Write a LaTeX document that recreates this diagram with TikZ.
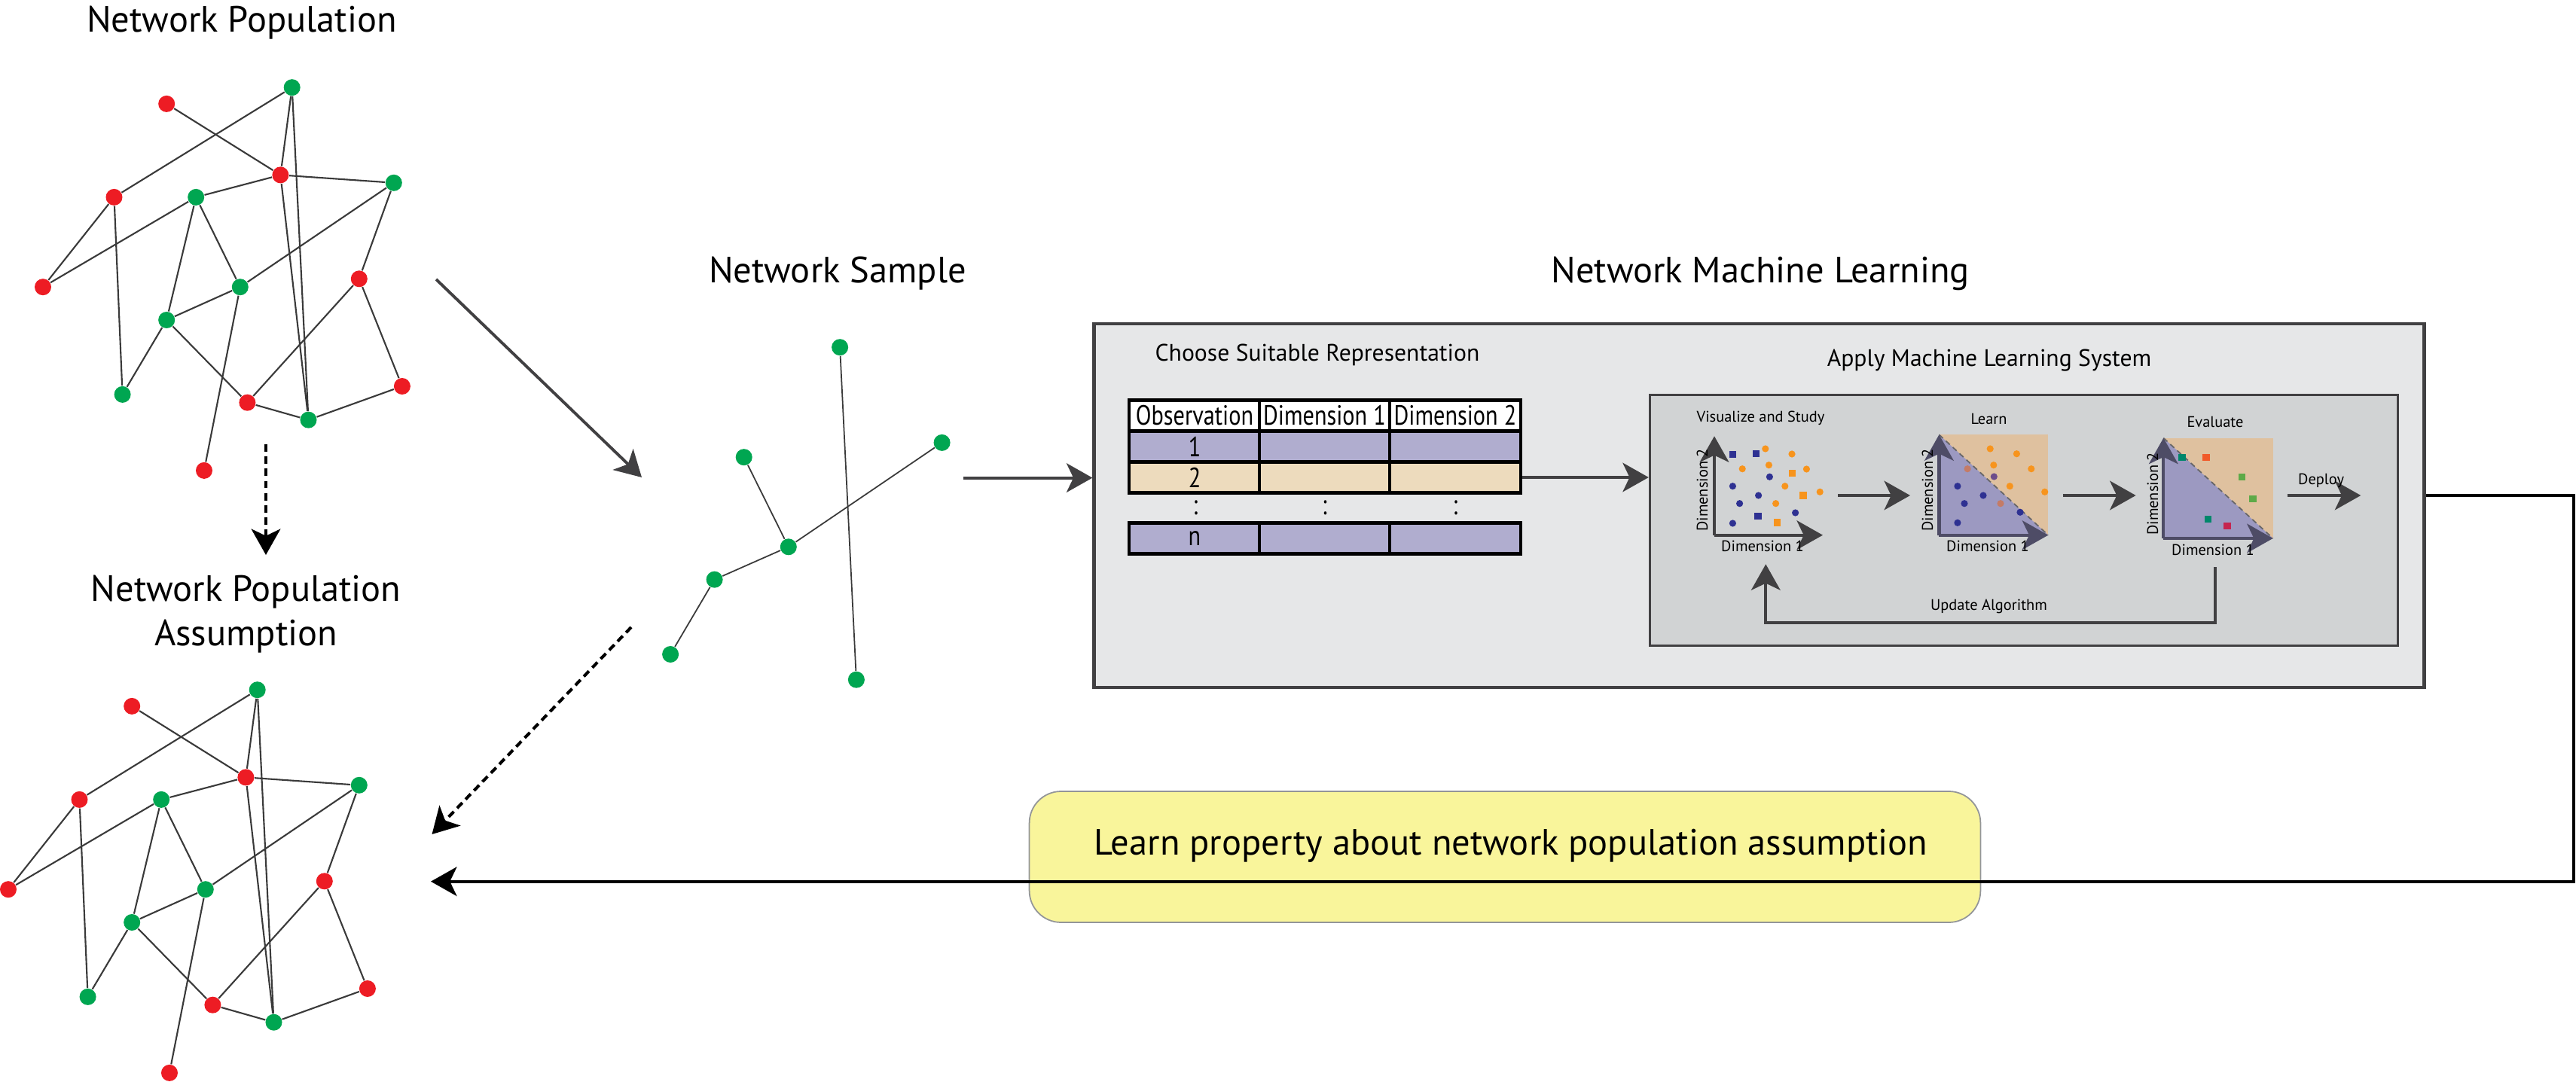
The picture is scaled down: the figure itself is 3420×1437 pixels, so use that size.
\documentclass[tikz,border=0pt]{standalone}
\usepackage{fontspec}
\setmainfont{PT Sans}
\newfontfamily\narrowsans[FakeStretch=0.82]{PT Sans}
\usetikzlibrary{arrows.meta,fit}

\definecolor{netred}{HTML}{ED1C24}
\definecolor{netgreen}{HTML}{00A651}
\definecolor{linkgray}{HTML}{3A3A3A}
\definecolor{flowgray}{HTML}{414042}
\definecolor{axisdim}{HTML}{4E4C66}
\definecolor{panelgray}{HTML}{E6E7E8}
\definecolor{innergray}{HTML}{D1D3D4}
\definecolor{rowlav}{HTML}{B0ADCF}
\definecolor{rowtan}{HTML}{EDDBBD}
\definecolor{ptblue}{HTML}{2E3192}
\definecolor{ptorange}{HTML}{F7941D}
\definecolor{ptbrown}{HTML}{C47B66}
\definecolor{ptpurple}{HTML}{6C4D8B}
\definecolor{regiontan}{HTML}{DFC19F}
\definecolor{regionlav}{HTML}{9C99C1}
\definecolor{okteal}{HTML}{00876B}
\definecolor{okgreen}{HTML}{5DAA48}
\definecolor{badred}{HTML}{F15A29}
\definecolor{badcrimson}{HTML}{C6244F}
\definecolor{noteyellow}{HTML}{F9F59B}
\definecolor{noteedge}{HTML}{939598}

% the population graph, drawn twice
\tikzset{
  netgraph/.pic={
    \node[greendot] (G1) at (387.7,116.2) {};
    \node[reddot]   (R1) at (221.2,137.9) {};
    \node[reddot]   (R2) at (372.4,232.4) {};
    \node[greendot] (G2) at (522.8,242.8) {};
    \node[reddot]   (R3) at (151.5,261.9) {};
    \node[greendot] (G3) at (260.2,261.9) {};
    \node[reddot]   (R4) at (57.0,381.2) {};
    \node[greendot] (G4) at (318.8,381.2) {};
    \node[reddot]   (R5) at (476.8,370.3) {};
    \node[greendot] (G5) at (221.2,425.0) {};
    \node[greendot] (G6) at (162.6,523.9) {};
    \node[reddot]   (R6) at (328.4,534.7) {};
    \node[greendot] (G7) at (409.5,557.7) {};
    \node[reddot]   (R7) at (533.9,513.0) {};
    \node[reddot]   (R8) at (271.0,624.9) {};
    \foreach \a/\b in {R1/R2, G1/R3, G1/R2, G1/G7, R2/G3, R2/G2, R2/G7,
                       R3/R4, R3/G6, G3/R4, G3/G5, G3/G4, G2/G4, G2/R5,
                       G4/G5, G4/R8, G5/G6, G5/R6, R5/R6, R5/R7, R6/G7, G7/R7}
      \draw[link] (\a) -- (\b);
  }
}

\begin{document}
\begin{tikzpicture}[
    x=0.01cm, y=-0.01cm,
    >={Stealth[length=9.8pt, width=11pt, inset=2.6pt]},
    reddot/.style={circle, fill=netred, inner sep=0pt, minimum size=0.22cm},
    greendot/.style={reddot, fill=netgreen},
    link/.style={draw=linkgray, line width=0.6pt},
    flow/.style={->, draw=flowgray, line width=1.1pt},
    dashflow/.style={->, draw=black, line width=1.15pt, dash pattern=on 2.8pt off 1.8pt},
    backflow/.style={->, draw=black, line width=1.15pt},
    title/.style={font=\fontsize{13.8}{16.8}\selectfont, inner sep=0pt, anchor=base},
    subtitle/.style={font=\fontsize{9}{11}\selectfont, inner sep=0pt, anchor=base},
    steplabel/.style={font=\fontsize{5.8}{7}\selectfont, inner sep=0pt, anchor=base},
    cell/.style={draw=black, line width=1.15pt, minimum width=1.73cm, minimum height=0.41cm,
        inner sep=0pt, font=\narrowsans\fontsize{10.5}{12}\selectfont},
    vdots/.style={inner sep=0pt, font=\narrowsans\fontsize{10.5}{12}\selectfont},
    panel/.style={draw=flowgray, line width=1.3pt, fill=panelgray, inner sep=0pt},
    stagebox/.style={draw=flowgray, line width=0.8pt, fill=innergray, inner sep=0pt},
    notebox/.style={draw=noteedge, line width=0.5pt, fill=noteyellow, rounded corners=0.42cm, inner sep=0pt},
    axis/.style={->, draw=flowgray, line width=1.2pt},
    dimaxis/.style={axis, draw=axisdim},
    boundary/.style={draw=flowgray!80, line width=0.5pt, dash pattern=on 2pt off 1.5pt},
]
\useasboundingbox (0,0) rectangle (3420,1437);

% ── Population graphs ────────────────────────────────────────
\pic (pop-) at (0,0) {netgraph};
\pic (asm-) at (-46,800) {netgraph};

\node[title] (poplbl) at (321,43) {Network Population};
\node[title, anchor=north, align=center] (asmlbl) at (326.6,763) {Network Population\\Assumption};

\coordinate (popdown) at (353,590);
\coordinate (asmtop)  at (353,737);
\draw[dashflow] (popdown) -- (asmtop);

% ── Network sample ───────────────────────────────────────────
\node[greendot] (s1) at (1115.1,461.2) {};
\node[greendot] (s2) at (1250.6,587.9) {};
\node[greendot] (s3) at (987.7,607.2) {};
\node[greendot] (s4) at (1046.8,726.3) {};
\node[greendot] (s5) at (948.6,769.7) {};
\node[greendot] (s6) at (890.1,869.0) {};
\node[greendot] (s7) at (1136.9,902.7) {};
\draw[link, line width=0.5pt] (s1) -- (s7);
\draw[link, line width=0.5pt] (s3) -- (s4);
\draw[link, line width=0.5pt] (s4) -- (s2);
\draw[link, line width=0.5pt] (s4) -- (s5);
\draw[link, line width=0.5pt] (s5) -- (s6);

\node[title] (smplbl) at (1112,375.8) {Network Sample};

\coordinate (popout) at (579,371);
\coordinate (smpin)  at (852,634);
\draw[flow] (popout) -- (smpin);

\coordinate (smpdown)  at (838,833);
\coordinate (asmright) at (573.5,1108);
\draw[dashflow] (smpdown) -- (asmright);

% ── Network machine learning ─────────────────────────────────
\node[panel, fit={(1452.7,430.2) (3218.3,913)}] (mlbox) {};
\node[title] (mllbl) at (2337,375.8) {Network Machine Learning};

\coordinate (smpout) at (1279,634.6);
\draw[flow] (smpout) -- (smpout -| mlbox.west);

% representation table
\node[subtitle] (replbl) at (1749,480) {Choose Suitable Representation};

\node[cell, fill=white]  (hobs) at (1586,552) {Observation};
\node[cell, fill=white]  (hd1)  at (1758.5,552) {Dimension 1};
\node[cell, fill=white]  (hd2)  at (1932,552) {Dimension 2};
\node[cell, fill=rowlav] (o1)   at (1586,593) {1};
\node[cell, fill=rowlav] (a1)   at (1758.5,593) {};
\node[cell, fill=rowlav] (b1)   at (1932,593) {};
\node[cell, fill=rowtan] (o2)   at (1586,634) {2};
\node[cell, fill=rowtan] (a2)   at (1758.5,634) {};
\node[cell, fill=rowtan] (b2)   at (1932,634) {};
\node[vdots] (vo) at (1587,674) {:};
\node[vdots] (va) at (1758.5,674) {:};
\node[vdots] (vb) at (1932,674) {:};
\node[cell, fill=rowlav] (on)   at (1586,715) {n};
\node[cell, fill=rowlav] (an)   at (1758.5,715) {};
\node[cell, fill=rowlav] (bn)   at (1932,715) {};

% machine learning system
\node[stagebox, fit={(2190.2,524.3) (3183.3,857.3)}] (mlsys) {};
\node[subtitle] (syslbl) at (2641,487) {Apply Machine Learning System};

\draw[flow, line width=0.95pt] (b2.east) -- (b2.east -| mlsys.west);

% visualize and study
\node[steplabel] (vislbl) at (2337.5,561) {Visualize and Study};
\coordinate (p1o) at (2276,710.7);
\coordinate (p1y) at (2276,579.3);
\coordinate (p1x) at (2420,710.7);
\foreach \px/\py in {2300.4/603.3, 2331.5/602.7, 2334.1/685.3}
  \fill[ptblue] (\px,\py) ++(-0.047cm,-0.047cm) rectangle ++(0.094cm,0.094cm);
\foreach \px/\py in {2379.5/628.7, 2393.8/658, 2359.6/694}
  \fill[ptorange] (\px,\py) ++(-0.047cm,-0.047cm) rectangle ++(0.094cm,0.094cm);
\foreach \px/\py in {2349.4/633.3, 2300.4/645.7, 2334.6/658, 2309.6/668.7, 2383.6/681, 2300.4/695}
  \fill[ptblue] (\px,\py) circle (0.046cm);
\foreach \px/\py in {2343.8/596, 2379/603, 2313.2/622.7, 2348.4/617.7, 2398.4/623,
                     2369.8/645.7, 2416.2/653.3, 2357.6/668.7}
  \fill[ptorange] (\px,\py) circle (0.046cm);
\draw[axis] (p1o) -- (p1y);
\draw[axis] (p1o) -- (p1x);
\node[steplabel, rotate=90] (visd2) at (2267,651) {Dimension 2};
\node[steplabel] (visd1) at (2340,733) {Dimension 1};

\coordinate (visout) at (2440,658);
\coordinate (lrnin)  at (2536,658);
\draw[flow] (visout) -- (lrnin);

% learn
\node[steplabel] (lrnlbl) at (2640.5,564) {Learn};
\coordinate (p2o) at (2574.4,710.7);
\coordinate (p2y) at (2574.4,577.3);
\coordinate (p2x) at (2719.3,710.7);
\fill[regiontan] (p2y) rectangle (p2x);
\fill[regionlav] (p2y) -- (p2o) -- (p2x) -- cycle;
\draw[boundary] (p2y) -- (p2x);
\foreach \px/\py in {2642.2/596, 2677.4/602.7, 2646.8/617.7, 2696.8/622.7, 2668.3/645.7, 2714.7/653.3}
  \fill[ptorange] (\px,\py) circle (0.046cm);
\foreach \px/\py in {2612.1/622.7, 2656/668.7}
  \fill[ptbrown] (\px,\py) circle (0.046cm);
\fill[ptpurple] (2647.3,633) circle (0.046cm);
\foreach \px/\py in {2598.9/645.7, 2633/658, 2608/668.7, 2682/680.3, 2598.9/694.3}
  \fill[ptblue] (\px,\py) circle (0.046cm);
\draw[dimaxis] (p2o) -- (p2y);
\draw[dimaxis] (p2o) -- (p2x);
\node[steplabel, rotate=90] (lrnd2) at (2566,651) {Dimension 2};
\node[steplabel] (lrnd1) at (2639,733) {Dimension 1};

\coordinate (lrnout) at (2738.7,658);
\coordinate (evlin)  at (2835.6,658);
\draw[flow] (lrnout) -- (evlin);

% evaluate
\node[steplabel] (evllbl) at (2941,568) {Evaluate};
\coordinate (p3o) at (2872.3,715);
\coordinate (p3y) at (2872.3,581.7);
\coordinate (p3x) at (3017.7,715);
\fill[regiontan] (p3y) rectangle (p3x);
\fill[regionlav] (p3y) -- (p3o) -- (p3x) -- cycle;
\draw[boundary] (p3y) -- (p3x);
\foreach \px/\py/\c in {2896.8/607.3/okteal, 2929/607.3/badred, 2976.7/633.3/okgreen,
                        2991/662.3/okgreen, 2931.7/689.7/okteal, 2957/698.7/badcrimson}
  \fill[\c] (\px,\py) ++(-0.047cm,-0.047cm) rectangle ++(0.094cm,0.094cm);
\draw[dimaxis] (p3o) -- (p3y);
\draw[dimaxis] (p3o) -- (p3x);
\node[steplabel, rotate=90] (evld2) at (2865,656) {Dimension 2};
\node[steplabel] (evld1) at (2938,738) {Dimension 1};

% deploy
\coordinate (evlout) at (3036.7,658);
\coordinate (dplend) at (3134.3,658);
\draw[flow, line width=1pt] (evlout) -- node[steplabel, pos=0.46, yshift=4pt] (dpllbl) {Deploy} (dplend);

% update loop
\coordinate (evlbot) at (2941.3,753.3);
\coordinate (loopbot) at (2941.3,826.7);
\coordinate (visbot) at (2344.3,749.3);
\draw[flow] (evlbot) -- (loopbot) -| (visbot);
\node[steplabel] (updlbl) at (2640.5,811) {Update Algorithm};

% ── Feedback to the population assumption ────────────────────
\node[notebox, fit={(1366.6,1051) (2629.4,1225)}] (learnbox) {};
\node[title] (learnlbl) at (2006,1136) {Learn property about network population assumption};

\coordinate (fbcorner) at (3416.7,658);
\coordinate (fbtip)    at (572,1170.7);
\draw[backflow] (mlbox.east |- fbcorner) -- (fbcorner) |- (fbtip);

\end{tikzpicture}
\end{document}
